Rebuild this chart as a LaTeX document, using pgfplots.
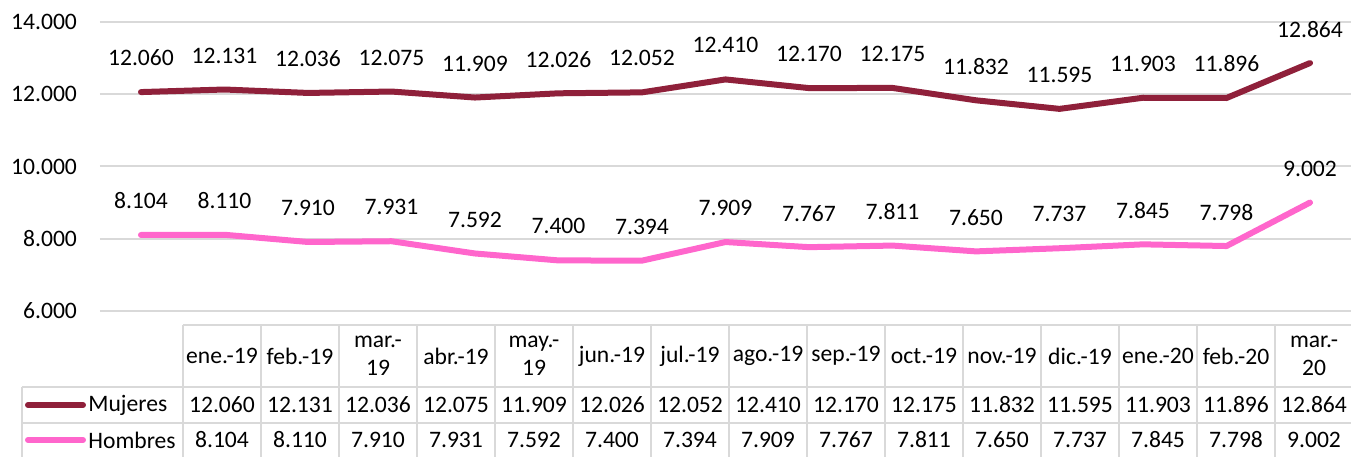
\documentclass[border=0pt]{standalone}
\usepackage{pgfplots}
\pgfplotsset{compat=1.18}
\usepackage{pgfplotstable}
\usepackage{fontspec}
\setmainfont{Carlito}

\definecolor{mujeres}{RGB}{143,32,58}
\definecolor{hombres}{RGB}{255,102,204}
\definecolor{grille}{RGB}{217,217,217}

\newcommand{\fnt}{\fontsize{11.8pt}{13.8pt}\selectfont}

% index, Mujeres, Hombres
\pgfplotstableread{
i m h
0 12060 8104
1 12131 8110
2 12036 7910
3 12075 7931
4 11909 7592
5 12026 7400
6 12052 7394
7 12410 7909
8 12170 7767
9 12175 7811
10 11832 7650
11 11595 7737
12 11903 7845
13 11896 7798
14 12864 9002
}\data

\begin{document}
\begin{tikzpicture}
\begin{axis}[
    scale only axis,
    width=625.5pt, height=144.5pt,
    xmin=-1.564, xmax=14.474,
    ymin=6000, ymax=14000,
    clip=false,
    axis line style={draw=none},
    major tick length=0pt,
    scaled y ticks=false,
    ytick={6000,8000,10000,12000,14000},
    ymajorgrids,
    grid style={grille, line width=1pt},
    xtick={0,...,14},
    xticklabels={ene.-19, feb.-19, {mar.-\\19}, abr.-19, {may.-\\19}, jun.-19, jul.-19, ago.-19, sep.-19, oct.-19, nov.-19, dic.-19, ene.-20, feb.-20, {mar.-\\20}},
    xticklabel style={anchor=center, yshift=-22.5pt, align=center, font=\fnt},
    yticklabel style={font=\fnt, xshift=-8pt},
    /pgf/number format/.cd, fixed, precision=0, 1000 sep={.}, assume math mode=true,
]
% lines (the plot area of the chart is wider than the table columns)
\addplot[mujeres, line width=3pt, line join=round, line cap=round, mark=none,
    nodes near coords, point meta=\thisrow{m},
    nodes near coords style={anchor=center, yshift=17pt, text=black, font=\fnt}]
    table[x expr=-1.0385+1.0705*\thisrow{i}, y=m] {\data};
\addplot[hombres, line width=3pt, line join=round, line cap=round, mark=none,
    nodes near coords, point meta=\thisrow{h},
    nodes near coords style={anchor=center, yshift=17pt, text=black, font=\fnt}]
    table[x expr=-1.0385+1.0705*\thisrow{i}, y=h] {\data};

% data table rows
\addplot[draw=none, mark=none, nodes near coords, point meta=\thisrow{m},
    nodes near coords style={anchor=center, text=black, font=\fnt}]
    table[x=i, y expr=3398] {\data};
\addplot[draw=none, mark=none, nodes near coords, point meta=\thisrow{h},
    nodes near coords style={anchor=center, text=black, font=\fnt}]
    table[x=i, y expr=2430] {\data};

% table grid
\draw[grille, line width=1pt] (axis cs:-0.5,5613) -- (axis cs:14.6,5613);
\draw[grille, line width=1pt] (axis cs:-2.564,3897) -- (axis cs:14.6,3897);
\draw[grille, line width=1pt] (axis cs:-2.564,2900) -- (axis cs:14.6,2900);
\draw[grille, line width=1pt] (axis cs:-2.564,3897) -- (axis cs:-2.564,1900);
\pgfplotsinvokeforeach{-0.5,0.5,...,14.5}{
  \draw[grille, line width=1pt] (axis cs:#1,5613) -- (axis cs:#1,1900);
}

% row keys
\draw[mujeres, line width=3pt, line cap=round] (axis cs:-2.487,3398) -- (axis cs:-1.782,3398);
\node[anchor=west, inner sep=0pt, font=\fnt] at (axis cs:-1.718,3398) {Mujeres};
\draw[hombres, line width=3pt, line cap=round] (axis cs:-2.487,2430) -- (axis cs:-1.782,2430);
\node[anchor=west, inner sep=0pt, font=\fnt] at (axis cs:-1.718,2430) {Hombres};

\coordinate (tl) at (axis cs:-2.846,14609);
\coordinate (br) at (axis cs:14.474,1959);
\end{axis}
\pgfresetboundingbox
\useasboundingbox (tl) rectangle (br);
\end{tikzpicture}
\end{document}
